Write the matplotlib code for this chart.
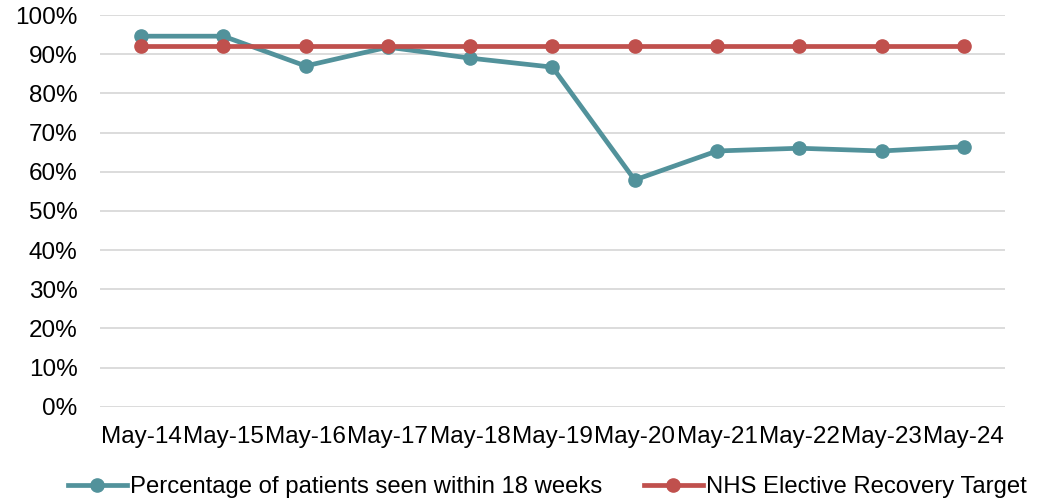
import matplotlib
matplotlib.use("Agg")
import matplotlib.pyplot as plt
from matplotlib.ticker import PercentFormatter

months = ["May-14", "May-15", "May-16", "May-17", "May-18", "May-19",
          "May-20", "May-21", "May-22", "May-23", "May-24"]
seen_18wk = [94.6, 94.6, 87.0, 91.8, 89.0, 86.7, 57.9, 65.3, 66.0, 65.3, 66.4]
target = [92] * len(months)

plt.rcParams["font.family"] = ["Liberation Sans", "DejaVu Sans"]

fig = plt.figure(figsize=(10.39, 5.01), dpi=100)
ax = fig.add_axes([0.0962, 0.188, 0.871, 0.782])

x = range(len(months))
ax.plot(x, seen_18wk, color="#52929B", lw=3.4, marker="o", ms=9.5,
        label="Percentage of patients seen within 18 weeks", zorder=3)
ax.plot(x, target, color="#C0504D", lw=3.4, marker="o", ms=9.5,
        label="NHS Elective Recovery Target", zorder=3)

ax.set_xlim(-0.5, len(months) - 0.5)
ax.set_ylim(0, 100)
ax.set_yticks(range(0, 101, 10))
ax.yaxis.set_major_formatter(PercentFormatter(decimals=0))
ax.set_xticks(list(x))
ax.set_xticklabels(months)
ax.tick_params(axis="both", length=0, labelsize=17.5, colors="black")
ax.tick_params(axis="x", pad=14)
ax.tick_params(axis="y", pad=16)
ax.grid(axis="y", color="#D9D9D9", lw=1.3)
ax.set_axisbelow(True)
for s in ax.spines.values():
    s.set_visible(False)

fig.legend(loc="center", bbox_to_anchor=(0.527, 0.028), ncol=2,
           frameon=False, fontsize=17.2, handlelength=2.45, handletextpad=0.15,
           columnspacing=1.75)

fig.savefig("out.png", dpi=100)
